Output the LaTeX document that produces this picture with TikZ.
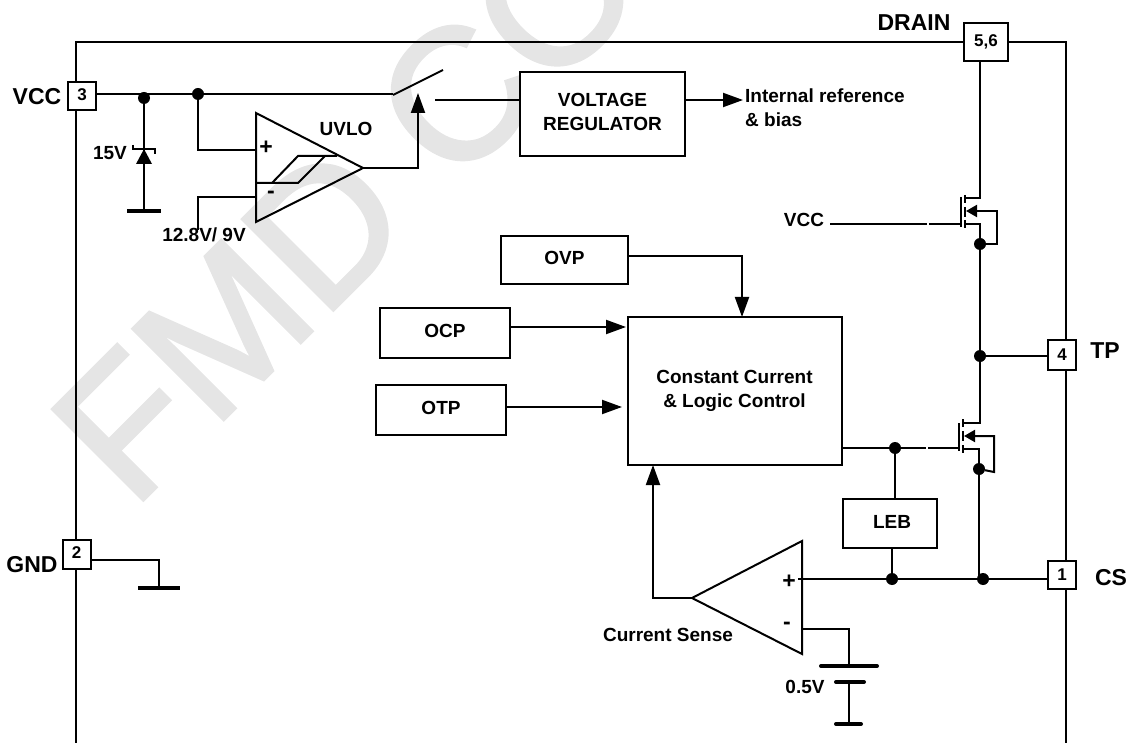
\documentclass[tikz,border=0pt]{standalone}
\usepackage{fontspec}
\setmainfont{Liberation Sans}
\newfontfamily\markfont[FakeBold=2]{Liberation Sans}
\usetikzlibrary{arrows.meta}

\definecolor{markgrey}{HTML}{E5E5E5}
\newcommand{\upby}[2]{\raisebox{#1}{\begin{tabular}{@{}c@{}}#2\end{tabular}}}

\tikzset{
    wire/.style={line width=2pt},
    bigtxt/.style={font=\fontsize{23}{26}\selectfont\bfseries,inner sep=0pt},
    txt/.style={font=\fontsize{19}{24}\selectfont\bfseries,inner sep=0pt,align=center},
    block/.style={draw,line width=2pt,fill=white,inner sep=0pt,align=center,font=\fontsize{19}{24}\selectfont\bfseries},
    pinbox/.style={draw,line width=2pt,fill=white,inner sep=0pt,font=\fontsize{17}{20}\selectfont\bfseries},
    dot/.style={circle,fill=black,inner sep=0pt,minimum size=12pt},
}

\begin{document}
\begin{tikzpicture}[x=1pt,y=-1pt,>={Triangle[length=20pt,width=14pt]}]
\useasboundingbox (0,0) rectangle (1130,743);

% watermark
\node (mark) [text=markgrey,rotate=45,anchor=base west,font=\fontsize{186}{186}\markfont,inner sep=0pt] at (132.5,510.5) {FMD CO};

% outline
\draw [wire] (76,743) -- (76,42) -- (1066,42) -- (1066,743);

\begin{scope}[every node/.style={pinbox}]
    \node (P3) [minimum width=28pt,minimum height=28pt] at (82,96) {\raisebox{3pt}{3}};
    \node (P2) [minimum width=28pt,minimum height=29pt] at (76.5,554.5) {\raisebox{3pt}{2}};
    \node (P56) [minimum width=44pt,minimum height=38pt] at (986,42) {\raisebox{-4pt}{5,6}};
    \node (P4) [minimum width=28pt,minimum height=29pt] at (1062,355) {\raisebox{-3pt}{4}};
    \node (P1) [minimum width=28pt,minimum height=28pt] at (1062,575) {\raisebox{-3pt}{1}};
\end{scope}

\begin{scope}[every node/.style={block}]
    \node (REG) [minimum width=165pt,minimum height=84pt] at (602.5,114) {\upby{3pt}{VOLTAGE\\REGULATOR}};
    \node (OVP) [minimum width=127pt,minimum height=48pt] at (564.5,260) {\upby{2pt}{OVP\hspace{3pt}}};
    \node (OCP) [minimum width=130pt,minimum height=50pt] at (445,333) {\upby{3pt}{OCP\hspace{8pt}}};
    \node (OTP) [minimum width=130pt,minimum height=50pt] at (441,410) {\upby{3pt}{OTP\hspace{8pt}}};
    \node (CTRL) [minimum width=214pt,minimum height=147pt] at (734.5,391) {\upby{4pt}{Constant Current\\\& Logic Control\hspace{2pt}}};
    \node (LEB) [minimum width=94pt,minimum height=49pt] at (890,523.5) {\upby{4pt}{\hspace{4pt}LEB}};
\end{scope}

\begin{scope}[every node/.style={dot}]
    \node (J1) at (144,98) {};
    \node (J2) at (198,94) {};
    \node (J3) at (980,244) {};
    \node (J4) at (980,356) {};
    \node (J5) at (895,448) {};
    \node (J6) at (979,469) {};
    \node (J7) at (892,579) {};
    \node (J8) at (983,579) {};
\end{scope}

% texts
\node (tVCC) [bigtxt] at (37,97) {VCC};
\node (tDRAIN) [bigtxt] at (914,23) {DRAIN};
\node (tGND) [bigtxt] at (32,565) {GND};
\node (tTP) [bigtxt] at (1105,351) {TP};
\node (tCS) [bigtxt] at (1111,578) {CS};
\node (t15V) [txt] at (110,153) {15V};
\node (tUVLO) [txt] at (346,129) {UVLO};
\node (tTH) [txt] at (204,235) {12.8V/ 9V};
\node (tINT) [txt,align=left,anchor=north west] at (745,89) {Internal reference\\\& bias};
\node (tVCC2) [txt] at (804,220) {VCC};
\node (tSENSE) [txt] at (668,635) {Current Sense};
\node (t05V) [txt] at (805,687) {0.5V};
\node (tP1) [bigtxt] at (266,148) {+};
\node (tM1) [bigtxt] at (271,195) {-};
\node (tP2) [bigtxt] at (789,582) {+};
\node (tM2) [bigtxt] at (787,626) {-};

% zener
\coordinate (zgnd) at (144,211);
\coordinate (ztop) at (144,149);
\draw [wire] (J1) -- (zgnd);
\draw [line width=4pt] (127,211) -- (161,211);
\fill (ztop) -- (136,164) -- (152,164) -- cycle;
\draw [line width=1.5pt] (133,145) -- (133,149) -- (155,149) -- (155,154);

% uvlo comparator
\coordinate (uvloA) at (256,113);
\coordinate (uvloB) at (256,222);
\coordinate (uvloC) at (363,168);
\draw [wire] (uvloA) -- (uvloC) -- (uvloB) -- cycle;
\draw [wire] (256,183) -- (298,183) -- (325,156);
\draw [wire] (272,183) -- (298,156) -- (337,156);
\draw [line width=2.5pt] (P3.east |- J2) -- (J2) -- (393,94);
\draw [wire] (393,95) -- (443,70);
\draw [wire] (J2) |- (256,150);
\draw [wire] (198,230) |- (256,197);
\draw [wire,->] (uvloC) -| (418,93);
\draw [wire] (435,100) -- (REG.west |- 0,100);
\draw [wire,->] (REG.east |- 0,100) -- (743,100);

% upper fet
\draw [wire] (P56.south -| J3) -- (980,198) -- (965,198);
\draw [wire] (830,224) -- (927,224);
\draw [wire] (929,224) -- (961,224);
\draw [wire] (961,197) -- (961,227);
\draw [wire] (965,195) -- (965,203);
\draw [wire] (965,207) -- (965,217);
\draw [wire] (965,220) -- (965,228);
\draw [wire] (965,224) -- (980,224) -- (J3);
\draw [wire,-{Triangle[length=11pt,width=12pt]}] (J3) -- (997,244) -- (997,211) -- (966,211);
\draw [wire] (J3) -- (J4);

% lower fet
\draw [wire] (J4) -- (P4.west |- J4);
\draw [wire] (J4) -- (980,423) -- (963,423);
\draw [wire] (CTRL.east |- J5) -- (J5) -- (926,448);
\draw [wire] (928,448) -- (959,448);
\draw [wire] (959,423) -- (959,451);
\draw [wire] (963,419) -- (963,427);
\draw [wire] (963,431) -- (963,441);
\draw [wire] (963,445) -- (963,453);
\draw [wire] (963,449) -- (979,449) -- (J6);
\draw [wire,-{Triangle[length=11pt,width=12pt]}] (J6) -- (994,472) -- (994,436) -- (964,436);
\draw [wire] (J6) -- (J6 |- J8);
\draw [wire] (J5) -- (J5 |- LEB.north);
\draw [wire] (J7 |- LEB.south) -- (J7);

% current sense
\coordinate (senseA) at (802,541);
\coordinate (senseB) at (802,654);
\coordinate (senseC) at (692,598);
\draw [wire] (senseA) -- (senseC) -- (senseB) -- cycle;
\draw [wire] (798,579) -- (J7) -- (J8) -- (P1.west |- J8);
\draw [wire,->] (senseC) -| (653,465);

% battery
\coordinate (batA) at (849,666);
\coordinate (batB) at (849,682);
\coordinate (batC) at (849,724);
\draw [wire] (801,629) -| (batA);
\draw [wire] (batB) -- (batC);
\draw [line width=4pt,line cap=round] (821,666) -- (877,666);
\draw [line width=4pt,line cap=round] (836,682) -- (864,682);
\draw [line width=4pt,line cap=round] (836,724) -- (861,724);

% gnd
\coordinate (GNDc) at (159,588);
\draw [wire] (P2.east |- 0,560) -| (GNDc);
\draw [line width=4pt] (138,588) -- (180,588);

% inputs of control
\draw [wire,->] (OVP.east |- 0,256) -| (742,317);
\draw [wire,->] (OCP.east |- 0,327) -- (626,327);
\draw [wire,->] (OTP.east |- 0,407) -- (622,407);
\end{tikzpicture}
\end{document}
